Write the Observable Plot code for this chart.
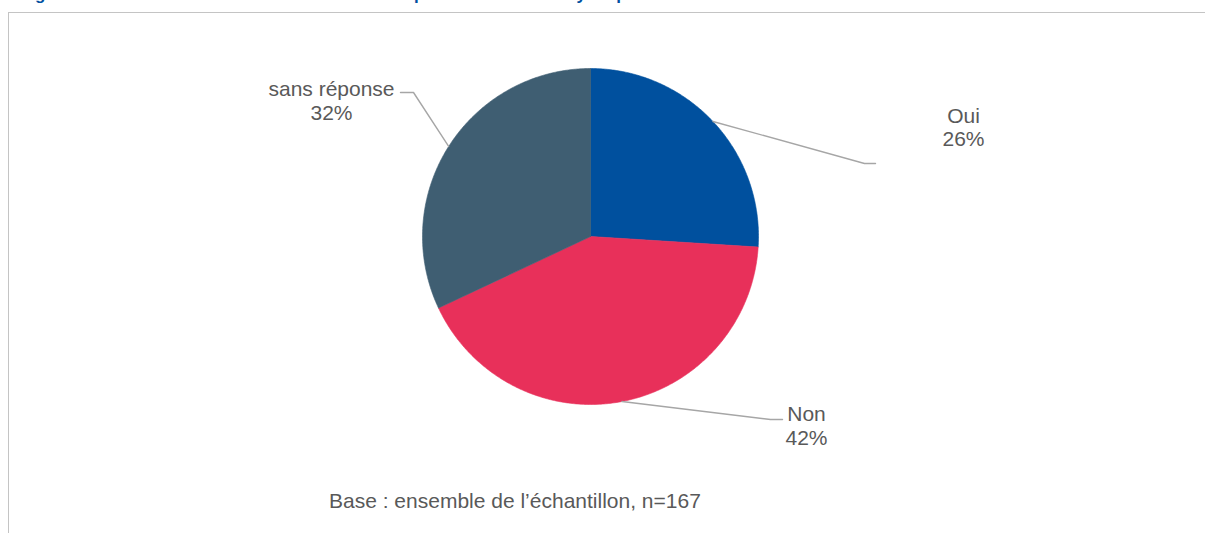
<!DOCTYPE html>
<html><head><meta charset="utf-8">
<script src="https://cdn.jsdelivr.net/npm/d3@7"></script>
<script src="https://cdn.jsdelivr.net/npm/@observablehq/plot@0.6"></script>
<style>
html,body{margin:0;padding:0;background:#fff;overflow:hidden;width:1205px;height:533px;}
#title{position:absolute;left:20px;top:-14.4px;font:bold 17px "Liberation Sans",Arial,sans-serif;line-height:17px;color:#0050a0;white-space:nowrap;z-index:2;}
#frame{position:absolute;left:8px;top:12px;width:1300px;height:600px;border-left:1.5px solid #c4c4c4;border-top:1px solid #c4c4c4;}
#chart{position:absolute;left:0;top:0;z-index:1;}
#note{position:absolute;left:329px;top:490.2px;font:21px "Liberation Sans",Arial,sans-serif;line-height:21px;color:#595959;white-space:nowrap;z-index:2;}
</style></head><body>
<div id="title"></div>
<div id="frame"></div>
<div id="chart"></div>
<div id="note"></div>
<script>
// ---- data ----
const titleText = "Figure 12 : Nombre de salariés dans toute l’entreprise en arrêt total ayant présenté des troubles";
const categories = ["Oui", "Non", "sans réponse"];
const percentages = [26, 42, 32];
const sliceColors = ["#00509e", "#e8305a", "#3f5e72"];
const baseNote = "Base : ensemble de l’échantillon, n=167";

// ---- layout (pixels relative to pie centre, y downward) ----
const W = 1205, H = 533, R = 168, CX = 590, CY = 236;
const labelLayout = {
  "Oui":          {elbow: [274, -73],  end: [285, -73],  text: [373, -109.4]},
  "Non":          {elbow: [180, 183],  end: [192, 183],  text: [216, 188.9]},
  "sans réponse": {elbow: [-177, -144], end: [-190, -144], text: [-259, -136]}
};
const px = ([dx, dy]) => ({x: dx / R, y: -dy / R});

document.getElementById("title").textContent = titleText;
document.getElementById("note").textContent = baseNote;

const arcs = d3.pie().sort(null).value(d => d)(percentages);

// slice polygons (unit circle, angle 0 at 12 o'clock, clockwise)
const slicePts = [];
arcs.forEach((a, i) => {
  const cat = categories[i];
  slicePts.push({cat, x: 0, y: 0});
  const n = Math.max(2, Math.ceil((a.endAngle - a.startAngle) / (Math.PI / 360)));
  for (let k = 0; k <= n; k++) {
    const t = a.startAngle + (a.endAngle - a.startAngle) * k / n;
    slicePts.push({cat, x: Math.sin(t), y: Math.cos(t)});
  }
  slicePts.push({cat, x: 0, y: 0});
});

// leader lines: from slice mid-angle edge to elbow to end
const leaderPts = [];
const labels = [];
arcs.forEach((a, i) => {
  const cat = categories[i];
  const mid = (a.startAngle + a.endAngle) / 2;
  const L = labelLayout[cat];
  leaderPts.push({cat, x: Math.sin(mid), y: Math.cos(mid)});
  leaderPts.push({cat, ...px(L.elbow)});
  leaderPts.push({cat, ...px(L.end)});
  labels.push({cat, text: cat + "\n" + percentages[i] + "%", ...px(L.text)});
});

const chart = Plot.plot({
  width: W, height: H, margin: 0,
  x: {domain: [-CX / R, (W - CX) / R], axis: null},
  y: {domain: [-(H - CY) / R, CY / R], axis: null},
  color: {domain: categories, range: sliceColors},
  style: {background: "transparent", fontFamily: "'Liberation Sans', Arial, sans-serif"},
  marks: [
    Plot.line(slicePts, {x: "x", y: "y", z: "cat", fill: "cat", stroke: "cat", strokeWidth: 0.6, curve: "linear"}),
    Plot.line(leaderPts, {x: "x", y: "y", z: "cat", stroke: "#a6a6a6", strokeWidth: 1.4}),
    Plot.text(labels, {x: "x", y: "y", text: "text", fontSize: 21, lineHeight: 1.12, fill: "#595959", textAnchor: "middle"})
  ]
});
document.getElementById("chart").appendChild(chart);
</script>
</body></html>
